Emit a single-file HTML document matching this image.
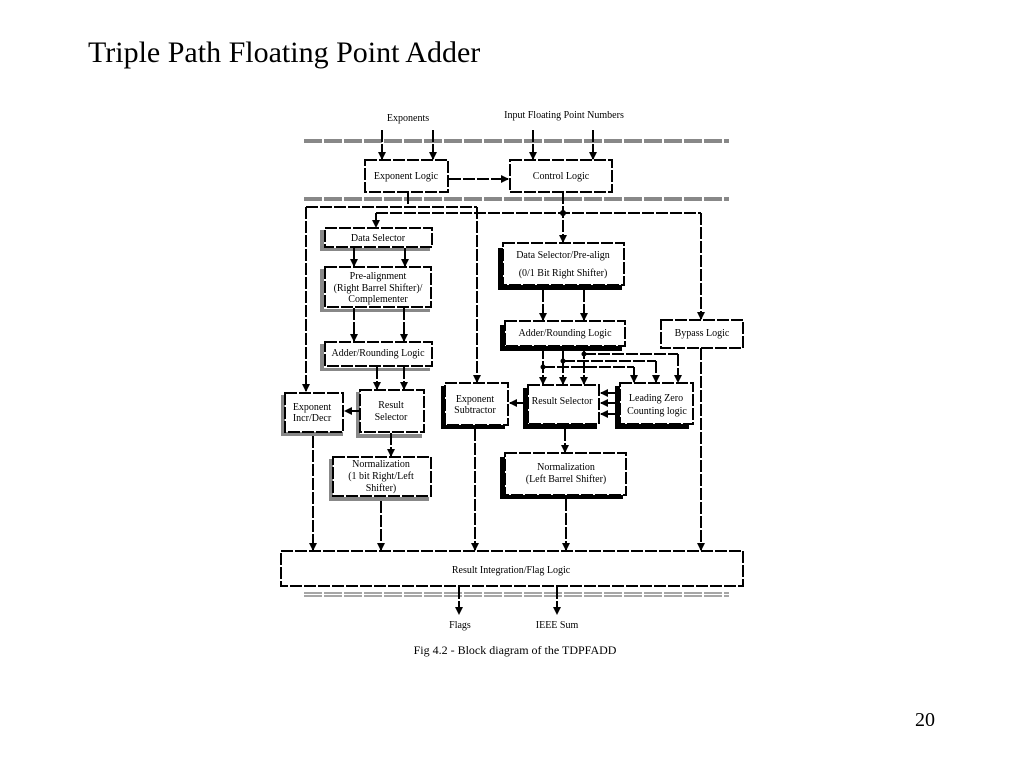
<!DOCTYPE html>
<html><head><meta charset="utf-8"><style>
html,body{margin:0;padding:0;background:#fff;}
svg{display:block;}
text{font-family:"Liberation Serif",serif;fill:#000;}
</style></head><body>
<svg width="1024" height="768" viewBox="0 0 1024 768" xmlns="http://www.w3.org/2000/svg">
<defs>
<marker id="a" markerWidth="8" markerHeight="8" refX="7" refY="4" orient="auto" markerUnits="userSpaceOnUse"><path d="M0,0 L8,4 L0,8 z" fill="#000"/></marker>
</defs>
<text x="88" y="62" font-size="30">Triple Path Floating Point Adder</text>
<text x="915" y="726" font-size="20">20</text>

<g stroke="#888" stroke-width="4" stroke-dasharray="18,2">
<line x1="304" y1="141" x2="729" y2="141"/>
<line x1="304" y1="199" x2="729" y2="199"/>
</g>
<g stroke="#888" stroke-width="1.5" stroke-dasharray="18,2">
<line x1="304" y1="593" x2="729" y2="593"/>
<line x1="304" y1="596" x2="729" y2="596"/>
</g>

<g font-size="10" text-anchor="middle">
<text x="408" y="121">Exponents</text>
<text x="564" y="118">Input Floating Point Numbers</text>
<text x="460" y="628">Flags</text>
<text x="557" y="628">IEEE Sum</text>
</g>
<text x="515" y="654" font-size="12" text-anchor="middle">Fig 4.2 - Block diagram of the TDPFADD</text>

<!-- shadows -->
<g fill="#888">
<rect x="320" y="230" width="4" height="18"/><rect x="320" y="248" width="110" height="3"/>
<rect x="320" y="269" width="4" height="40"/><rect x="320" y="309" width="110" height="3"/>
<rect x="320" y="344" width="4" height="24"/><rect x="320" y="368" width="110" height="3"/>
<rect x="281" y="395" width="4" height="40"/><rect x="281" y="432" width="62" height="4"/>
<rect x="356" y="392" width="4" height="42"/><rect x="356" y="434" width="66" height="4"/>
<rect x="329" y="459" width="4" height="40"/><rect x="329" y="497" width="100" height="4"/>
</g>
<g fill="#000">
<rect x="498" y="248" width="5" height="42"/><rect x="498" y="285" width="124" height="5"/>
<rect x="500" y="325" width="5" height="25"/><rect x="500" y="346" width="122" height="5"/>
<rect x="441" y="386" width="5" height="43"/><rect x="441" y="425" width="64" height="4"/>
<rect x="523" y="388" width="5" height="41"/><rect x="523" y="424" width="74" height="5"/>
<rect x="615" y="386" width="5" height="43"/><rect x="615" y="424" width="74" height="5"/>
<rect x="500" y="457" width="5" height="42"/><rect x="500" y="495" width="123" height="4"/>
</g>

<!-- boxes -->
<g fill="#fff" stroke="#000" stroke-width="2" stroke-dasharray="12,2">
<rect x="365" y="160" width="83" height="32"/>
<rect x="510" y="160" width="102" height="32"/>
<rect x="325" y="228" width="107" height="19"/>
<rect x="325" y="267" width="106" height="40"/>
<rect x="325" y="342" width="107" height="24"/>
<rect x="503" y="243" width="121" height="42"/>
<rect x="505" y="321" width="120" height="25"/>
<rect x="661" y="320" width="82" height="28"/>
<rect x="285" y="393" width="58" height="39"/>
<rect x="360" y="390" width="64" height="42"/>
<rect x="445" y="383" width="63" height="42"/>
<rect x="528" y="385" width="71" height="39"/>
<rect x="620" y="383" width="73" height="41"/>
<rect x="333" y="457" width="98" height="39"/>
<rect x="505" y="453" width="121" height="42"/>
<rect x="281" y="551" width="462" height="35"/>
</g>

<g font-size="10" text-anchor="middle">
<text x="406" y="179">Exponent Logic</text>
<text x="561" y="179">Control Logic</text>
<text x="378" y="241">Data Selector</text>
<text x="378" y="279">Pre-alignment</text>
<text x="378" y="291">(Right Barrel Shifter)/</text>
<text x="378" y="302">Complementer</text>
<text x="378" y="356">Adder/Rounding Logic</text>
<text x="563" y="258">Data Selector/Pre-align</text>
<text x="563" y="276">(0/1 Bit Right Shifter)</text>
<text x="565" y="336">Adder/Rounding Logic</text>
<text x="702" y="336">Bypass Logic</text>
<text x="312" y="410">Exponent</text>
<text x="312" y="421">Incr/Decr</text>
<text x="391" y="408">Result</text>
<text x="391" y="420">Selector</text>
<text x="475" y="402">Exponent</text>
<text x="475" y="413">Subtractor</text>
<text x="562" y="404">Result Selector</text>
<text x="656" y="401">Leading Zero</text>
<text x="657" y="414">Counting logic</text>
<text x="381" y="467">Normalization</text>
<text x="381" y="479">(1 bit Right/Left</text>
<text x="381" y="491">Shifter)</text>
<text x="566" y="470">Normalization</text>
<text x="566" y="482">(Left Barrel Shifter)</text>
<text x="511" y="573">Result Integration/Flag Logic</text>
</g>

<!-- connectors -->
<g stroke="#000" stroke-width="2" fill="none" stroke-dasharray="12,2">
<line x1="382" y1="130" x2="382" y2="159" marker-end="url(#a)"/>
<line x1="433" y1="130" x2="433" y2="159" marker-end="url(#a)"/>
<line x1="533" y1="130" x2="533" y2="159" marker-end="url(#a)"/>
<line x1="593" y1="130" x2="593" y2="159" marker-end="url(#a)"/>
<line x1="449" y1="179" x2="508" y2="179" marker-end="url(#a)"/>
<polyline points="408,192 408,207"/>
<line x1="306" y1="207" x2="477" y2="207"/>
<line x1="306" y1="207" x2="306" y2="391" marker-end="url(#a)"/>
<line x1="477" y1="207" x2="477" y2="382" marker-end="url(#a)"/>
<line x1="563" y1="192" x2="563" y2="242" marker-end="url(#a)"/>
<line x1="376" y1="213" x2="701" y2="213"/>
<line x1="376" y1="213" x2="376" y2="227" marker-end="url(#a)"/>
<line x1="701" y1="213" x2="701" y2="319" marker-end="url(#a)"/>
<line x1="354" y1="248" x2="354" y2="266" marker-end="url(#a)"/>
<line x1="405" y1="248" x2="405" y2="266" marker-end="url(#a)"/>
<line x1="354" y1="308" x2="354" y2="341" marker-end="url(#a)"/>
<line x1="404" y1="308" x2="404" y2="341" marker-end="url(#a)"/>
<line x1="377" y1="367" x2="377" y2="389" marker-end="url(#a)"/>
<line x1="404" y1="367" x2="404" y2="389" marker-end="url(#a)"/>
<line x1="359" y1="411" x2="345" y2="411" marker-end="url(#a)"/>
<line x1="391" y1="433" x2="391" y2="456" marker-end="url(#a)"/>
<line x1="543" y1="290" x2="543" y2="320" marker-end="url(#a)"/>
<line x1="584" y1="290" x2="584" y2="320" marker-end="url(#a)"/>
<line x1="543" y1="347" x2="543" y2="384" marker-end="url(#a)"/>
<line x1="563" y1="347" x2="563" y2="384" marker-end="url(#a)"/>
<line x1="584" y1="347" x2="584" y2="384" marker-end="url(#a)"/>
<line x1="543" y1="367" x2="634" y2="367"/>
<line x1="563" y1="361" x2="656" y2="361"/>
<line x1="584" y1="354" x2="678" y2="354"/>
<line x1="634" y1="367" x2="634" y2="382" marker-end="url(#a)"/>
<line x1="656" y1="361" x2="656" y2="382" marker-end="url(#a)"/>
<line x1="678" y1="354" x2="678" y2="382" marker-end="url(#a)"/>
<line x1="619" y1="393" x2="601" y2="393" marker-end="url(#a)"/>
<line x1="619" y1="403" x2="601" y2="403" marker-end="url(#a)"/>
<line x1="619" y1="414" x2="601" y2="414" marker-end="url(#a)"/>
<line x1="527" y1="403" x2="510" y2="403" marker-end="url(#a)"/>
<line x1="565" y1="429" x2="565" y2="452" marker-end="url(#a)"/>
<line x1="313" y1="436" x2="313" y2="550" marker-end="url(#a)"/>
<line x1="381" y1="501" x2="381" y2="550" marker-end="url(#a)"/>
<line x1="475" y1="429" x2="475" y2="550" marker-end="url(#a)"/>
<line x1="566" y1="499" x2="566" y2="550" marker-end="url(#a)"/>
<line x1="701" y1="348" x2="701" y2="550" marker-end="url(#a)"/>
<line x1="459" y1="587" x2="459" y2="614" marker-end="url(#a)"/>
<line x1="557" y1="587" x2="557" y2="614" marker-end="url(#a)"/>
</g>
<g fill="#000">
<circle cx="563" cy="213" r="3"/>
<circle cx="543" cy="367" r="2.5"/>
<circle cx="563" cy="361" r="2.5"/>
<circle cx="584" cy="354" r="2.5"/>
</g>
</svg>
</body></html>
